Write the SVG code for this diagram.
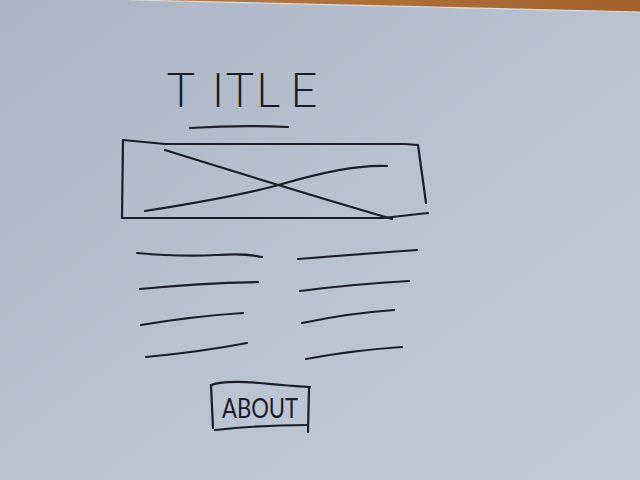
<svg xmlns="http://www.w3.org/2000/svg" width="640" height="480" viewBox="0 0 640 480">
  <defs>
    <linearGradient id="paper" x1="0" y1="0" x2="1" y2="1">
      <stop offset="0" stop-color="#aab4c4"/>
      <stop offset="0.5" stop-color="#b9c2d1"/>
      <stop offset="1" stop-color="#c3cbd8"/>
    </linearGradient>
    <linearGradient id="wood" x1="0" y1="0" x2="1" y2="0">
      <stop offset="0" stop-color="#b77a44"/>
      <stop offset="1" stop-color="#a3622c"/>
    </linearGradient>
  </defs>
  <style>
    .pen { fill: none; stroke: #1b1d29; stroke-width: 2.2; stroke-linecap: round; stroke-linejoin: round; }
    .ink { fill: #1b1d29; font-family: Lato, "Open Sans", "Liberation Sans", sans-serif; }
  </style>

  <!-- paper sheet with table edge showing at the top -->
  <rect width="640" height="480" fill="url(#paper)"/>
  <polygon points="130,0 640,0 640,12" fill="url(#wood)"/>
  <polyline points="130,0 640,12" fill="none" stroke="#d6dce5" stroke-width="1.2"/>

  <!-- page title -->
  <g id="title">
    <text class="ink" font-size="48" font-weight="300" text-anchor="middle" x="181 218 240 268 304" y="107">TITLE</text>
    <path class="pen" d="M190,128 Q240,125 288,127"/>
  </g>

  <!-- image placeholder -->
  <g id="image-placeholder">
    <path class="pen" d="M123,140 L165,144 L405,144 L418,145 L426,203"/>
    <path class="pen" d="M123,140 L122,218 L383,218 L428,213"/>
    <path class="pen" d="M165,150 Q280,186 392,219"/>
    <path class="pen" d="M145,211 Q240,196 282,184 Q350,164 387,166"/>
  </g>

  <!-- body text lines -->
  <g id="text-lines">
    <path class="pen" d="M137,253 Q180,257 217,255 Q245,253 262,257"/>
    <path class="pen" d="M140,289 Q200,283 258,282"/>
    <path class="pen" d="M141,325 Q195,316 243,313"/>
    <path class="pen" d="M146,357 Q200,352 247,343"/>
    <path class="pen" d="M298,259 Q360,254 417,250"/>
    <path class="pen" d="M300,291 Q355,284 409,281"/>
    <path class="pen" d="M302,323 Q350,313 394,310"/>
    <path class="pen" d="M306,359 Q355,350 402,347"/>
  </g>

  <!-- about button -->
  <g id="about-button">
    <path class="pen" d="M211,385 Q225,380 260,383 Q290,386 310,387"/>
    <path class="pen" d="M211,385 L213,428"/>
    <path class="pen" d="M309,388 L308,432"/>
    <path class="pen" d="M215,430 Q260,425 308,425"/>
    <text class="ink" font-size="26" font-weight="400" x="222" y="418" textLength="76" lengthAdjust="spacingAndGlyphs">ABOUT</text>
  </g>
</svg>
